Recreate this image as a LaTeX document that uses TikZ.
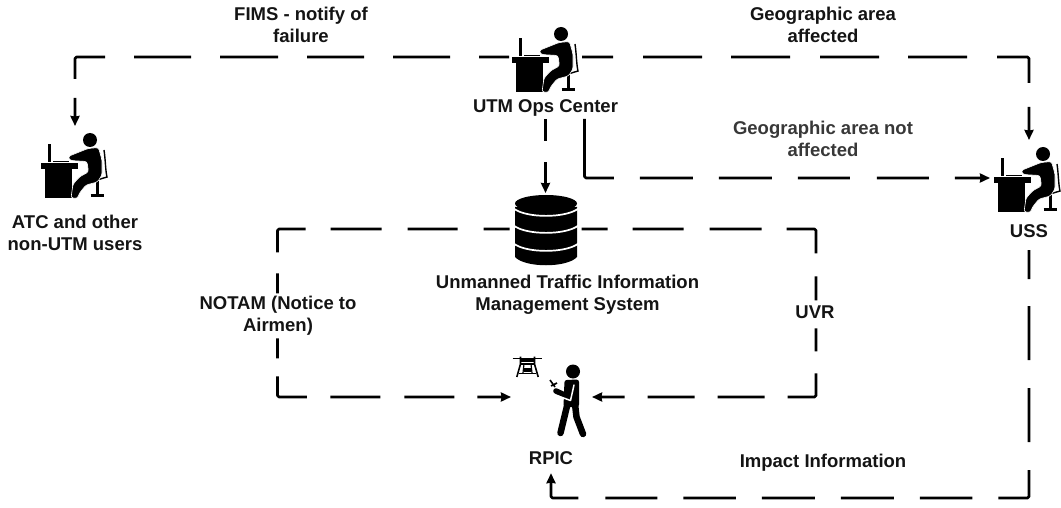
\documentclass[tikz,border=0pt]{standalone}
\usepackage{fontspec}
\setmainfont{Liberation Sans}
\usetikzlibrary{arrows.meta}
\tikzset{
  lbl/.style={font=\bfseries\fontsize{18.5}{22}\selectfont, align=center, inner sep=0pt, text=black!92},
  port/.style={inner sep=0pt, outer sep=0pt, draw=none},
  link/.style={line width=2.7pt, line join=round, rounded corners=1.5pt, -{Stealth[length=10pt,width=9pt,inset=0.5pt]}},
  pics/desk/.style={code={
    \fill[black] (0,0) rectangle (37,6);
    \fill[black] (3.5,6) rectangle (31,35);
    \fill[black] (7,-19) rectangle (10,-1);
    \draw[black,line width=0.9pt] (12,-1.8) -- (28,-1.8);
    \fill[black] (49,-23) circle (7);
    \draw[black,line width=1.4pt] (63,-13) .. controls (64.5,-3) and (64.5,8) .. (66,14) -- (46,20);
    \draw[black,line width=2.2pt] (56.5,18) -- (56.5,32);
    \draw[black,line width=2.2pt] (49.5,32.5) -- (63,32.5);
    \filldraw[black,draw=white,line width=0.6pt,rounded corners=2.5pt]
      (27,-6.5) -- (47,-14.5) -- (57.5,-15.5) -- (61,-3) -- (61,12) -- (56.5,19)
      -- (45,22) -- (38.5,30) -- (36.5,35.5) -- (30,35) -- (32,21) -- (39,13.5)
      -- (47.5,9) -- (46,-1.5) -- (29,-2.5) -- cycle;
  }}
}
\begin{document}
\begin{tikzpicture}[x=1pt,y=-1pt]
\useasboundingbox (0,0) rectangle (1061,508);
% icon anchor nodes
\node[port,minimum width=73pt,minimum height=60pt] (utm) at (545.5,57) {};
\node[port,minimum width=60pt,minimum height=88pt] (atc) at (75,170) {};
\node[port,minimum width=78pt,minimum height=76pt] (uss) at (1029,178) {};
\node[port,minimum width=72pt,minimum height=72pt] (db) at (545.5,229) {};
\node[port,minimum width=81pt,minimum height=60pt] (rpic) at (551.5,397) {};
\coordinate (utmport) at (584.5,119);
% labels
\node[lbl,minimum height=22pt] (utmlabel) at (545.5,108) {UTM Ops Center};
\node[lbl] (atclabel) at (75,232.5) {ATC and other\\non-UTM users};
\node[lbl,minimum height=38pt] (usslabel) at (1029,231) {USS};
\node[lbl] (dblabel) at (567.5,294.5) {Unmanned Traffic Information\\Management System};
\node[lbl,minimum height=30pt] (rpiclabel) at (551,458) {RPIC};
\node[lbl] (fims) at (301,25) {FIMS - notify of\\failure};
\node[lbl] (geoa) at (823,25) {Geographic area\\affected};
\node[lbl,text=black!78] (geon) at (823,139) {Geographic area not\\affected};
\node[lbl] (notam) at (278,315.5) {NOTAM (Notice to\\Airmen)};
\node[lbl] (uvr) at (815,312) {UVR};
\node[lbl] (impact) at (823,463) {Impact Information};
% connectors
\draw[link,dash pattern=on 30pt off 29pt on 57pt off 29pt on 57pt off 29pt on 58pt off 29pt on 57pt off 29pt on 51pt off 19pt on 100pt off 100pt]
  (utm.west) -| (atc.north);
\draw[link,dash pattern=on 31pt off 30pt on 59pt off 29pt on 59pt off 30pt on 59pt off 29pt on 59pt off 30pt on 57pt off 24pt on 100pt off 100pt]
  (utm.east) -| (uss.north);
\draw[link,dash pattern=on 87.5pt off 26pt on 53pt off 26pt on 53pt off 26pt on 52pt off 27pt on 52pt off 26pt on 100pt off 100pt]
  (utmport) |- (uss.west);
\draw[link,dash pattern=on 22pt off 21pt on 100pt off 100pt]
  (utmlabel.south) -- (db.north);
\draw[link,dash pattern=on 26pt off 26pt on 50pt off 26pt on 51pt off 25pt on 50.5pt off 21pt on 20pt off 45pt on 20pt off 18pt on 49pt off 23.5pt on 50pt off 24pt on 50pt off 23pt on 100pt off 100pt]
  (db.west) -- (277.5,229) |- (rpic.west);
\draw[link,dash pattern=on 26pt off 25pt on 51pt off 26pt on 52pt off 25pt on 53pt off 23pt on 24pt off 28pt on 23pt off 22pt on 51pt off 23pt on 47pt off 23pt on 47pt off 23pt on 100pt off 100pt]
  (db.east) -- (816,229) |- (rpic.east);
\draw[link,dash pattern=on 29pt off 27pt on 54pt off 28pt on 54pt off 28pt on 57.5pt off 26pt on 52.5pt off 26pt on 53pt off 26pt on 53pt off 26pt on 52.6pt off 26pt on 52pt off 27pt on 100pt off 100pt]
  (usslabel.south) -- (1029,498) -| (rpiclabel.south);
% desk figures
\pic at (512,57) {desk};
\pic at (41,163) {desk};
\pic at (994,177) {desk};
% database
\fill[black] (515,207) -- (515,257) .. controls (525,268) and (567,268) .. (577,257) -- (577,207) -- cycle;
\fill[black] (546,203.5) ellipse (31 and 8.5);
\foreach \yy in {208,225,243}
  \draw[white,line width=1.7pt] (513,\yy) .. controls (525,\yy+10.5) and (567,\yy+10.5) .. (579,\yy);
% drone
\begin{scope}[black]
\draw[line width=1.8pt] (512.5,358.5) -- (541.5,358.5);
\draw[line width=1.6pt] (520.5,356.5) -- (520.5,364) -- (516.8,377);
\draw[line width=1.6pt] (534.5,356.5) -- (534.5,364) -- (538.2,377);
\draw[line width=1.6pt] (520,364) -- (535,364);
\draw[line width=1.6pt] (519,373.5) -- (536,373.5);
\draw[line width=1.2pt] (524,364) -- (523,373) (531,364) -- (532,373);
\fill (524,367.5) rectangle (531,372);
\fill (521,358) rectangle (534,362);
\end{scope}
% pilot
\fill[black] (573,371.5) circle (7);
\fill[black,rounded corners=2.5pt] (564.5,380) -- (579,379.5) -- (579,407) -- (563.5,407) -- cycle;
\draw[black,line width=6.5pt,line cap=round,line join=round] (567.5,404) -- (560.5,433);
\draw[black,line width=6.5pt,line cap=round,line join=round] (575,404) -- (576.5,417) -- (583,434);
\draw[black,line width=5.5pt,line cap=round,line join=round] (556,391) -- (568,396.5) -- (568,388);
\draw[white,line width=1.5pt,line cap=round,line join=round] (574,385) -- (570.5,400.5) -- (558,396);
\draw[black,line width=1.6pt] (550,380) -- (555,387) (551,386) -- (557,383);
\end{tikzpicture}
\end{document}
